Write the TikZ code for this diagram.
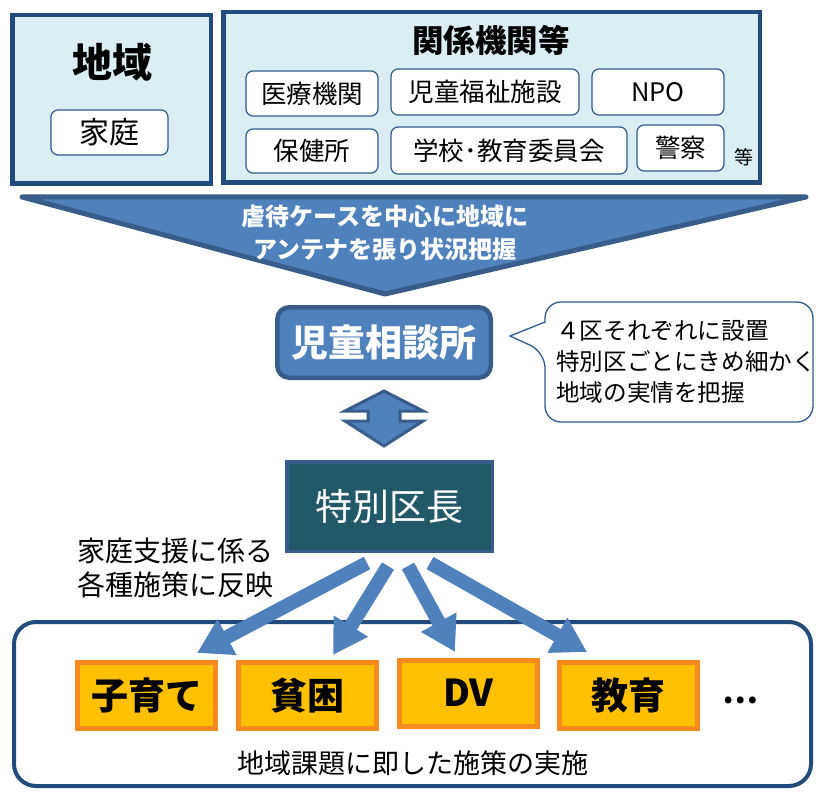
\documentclass[tikz,border=0pt]{standalone}
\usepackage{fontspec}
\newfontfamily\jp{Noto Sans CJK JP}
\usetikzlibrary{arrows.meta,calc}
\definecolor{ltblue}{HTML}{DAEEF3}
\definecolor{dkblue}{HTML}{224A7C}
\definecolor{midblue}{HTML}{2F5C8F}
\definecolor{mainblue}{HTML}{4F81BD}
\definecolor{blueedge}{HTML}{385D8A}
\definecolor{teal}{HTML}{215968}
\definecolor{orfill}{HTML}{FFC000}
\definecolor{oredge}{HTML}{F68A1E}
\tikzset{
  panel/.style={draw=dkblue, line width=4.5pt, fill=ltblue, inner sep=0pt},
  wbox/.style={draw=midblue, line width=1.2pt, fill=white, rounded corners=7pt, inner sep=0pt,
    font=\jp\fontsize{25.5}{28}\selectfont},
  obox/.style={draw=oredge, line width=5pt, fill=orfill, inner sep=0pt,
    minimum width=138pt, minimum height=66pt, font=\jp\bfseries\fontsize{37}{40}\selectfont},
  blockarr/.style={draw=mainblue, line width=14pt, -{Triangle[width=38pt,length=34pt]}},
}
\begin{document}
\begin{tikzpicture}[x=1pt,y=-1pt]
\useasboundingbox (0,0) rectangle (818,794);
% top panels
\node[panel, minimum width=198.5pt, minimum height=168.5pt] (region) at (111.5,99.5) {};
\node[font=\jp\bfseries\fontsize{40}{42}\selectfont] (regiont) at (112,62) {地域};
\node[wbox, minimum width=117pt, minimum height=45pt, font=\jp\fontsize{30}{32}\selectfont] (home) at (109.5,132.5) {家庭};
\node[panel, minimum width=536.5pt, minimum height=170.5pt] (org) at (491.5,97.5) {};
\node[font=\jp\bfseries\fontsize{31.5}{34}\selectfont] (orgt) at (491,40) {関係機関等};
\node[wbox, minimum width=132pt, minimum height=45pt] (med) at (312,93.5) {医療機関};
\node[wbox, minimum width=188pt, minimum height=46pt] (welf) at (485,92) {児童福祉施設};
\node[wbox, minimum width=132pt, minimum height=46pt] (npo) at (658,92) {NPO};
\node[wbox, minimum width=132pt, minimum height=44pt] (hc) at (312,151) {保健所};
\node[wbox, minimum width=236pt, minimum height=47pt] (school) at (509,150.5) {学校･教育委員会};
\node[wbox, minimum width=87pt, minimum height=46pt] (police) at (680.5,148) {警察};
\node[font=\jp\fontsize{19}{21}\selectfont] (etc) at (744,157) {等};
% big funnel arrow
\draw[fill=mainblue, draw=blueedge, line width=5pt, line join=round, line cap=round]
  (22,197) -- (806,197) -- (385,294) -- cycle;
\node[text=white, font=\jp\bfseries\fontsize{24}{33}\selectfont, align=center] (funnelt) at (385,233)
  {虐待ケースを中心に地域に\\アンテナを張り状況把握};
% child guidance center
\node[draw=blueedge, fill=mainblue, line width=4.5pt, rounded corners=12pt,
  minimum width=213.5pt, minimum height=70.5pt, inner sep=0pt, text=white,
  font=\jp\bfseries\fontsize{37}{40}\selectfont] (cgc) at (384,342.5) {児童相談所};
% callout
\draw[draw=midblue, line width=1.3pt, fill=white, rounded corners=16pt]
  (545,322) -- (545,302) -- (813,302) -- (813,422) -- (545,422) -- (545,352)
  [sharp corners] -- (510,336) -- cycle;
\node[anchor=west, align=left, font=\jp\fontsize{23.6}{31}\selectfont, inner sep=0pt] (note) at (556,362)
  {４区それぞれに設置\\特別区ごとにきめ細かく\\地域の実情を把握};
% double arrow
\draw[fill=mainblue, draw=blueedge, line width=3pt, line join=miter]
  (384,391) -- (423,411) -- (400,411) -- (400,421) -- (423,421) -- (384,446)
  -- (345,421) -- (368,421) -- (368,411) -- (345,411) -- cycle;
% ward mayor
\node[draw=blueedge, fill=teal, line width=3.5pt, minimum width=205.5pt, minimum height=89.5pt,
  inner sep=0pt, text=white, font=\jp\fontsize{37}{40}\selectfont] (mayor) at (389.5,506.5) {特別区長};
\node[align=left, anchor=west, inner sep=0pt, font=\jp\fontsize{28}{34}\selectfont] (reflect) at (77,568)
  {家庭支援に係る\\各種施策に反映};
% bottom box
\node[draw=dkblue, line width=4pt, fill=white, rounded corners=22pt, minimum width=797pt,
  minimum height=164pt, inner sep=0pt] (impl) at (412.5,704) {};
\node[obox] (kids) at (146.5,695.5) {子育て};
\node[obox] (poor) at (307,695.5) {貧困};
\node[obox] (dv) at (468.5,693) {DV};
\node[obox] (edu) at (628.5,695.5) {教育};
\node[font=\jp\bfseries\fontsize{32}{34}\selectfont] (dots) at (740,700) {…};
\node[font=\jp\fontsize{27}{30}\selectfont] (impltext) at (413,763) {地域課題に即した施策の実施};
% arrows from mayor
\coordinate (s1) at (367,563); \coordinate (e1) at (197,653);
\coordinate (s2) at (388,566); \coordinate (e2) at (333,655);
\coordinate (s3) at (408,566); \coordinate (e3) at (455,652);
\coordinate (s4) at (430,563); \coordinate (e4) at (587,652);
\draw[blockarr] (s1) -- (e1);
\draw[blockarr] (s2) -- (e2);
\draw[blockarr] (s3) -- (e3);
\draw[blockarr] (s4) -- (e4);
\end{tikzpicture}
\end{document}
